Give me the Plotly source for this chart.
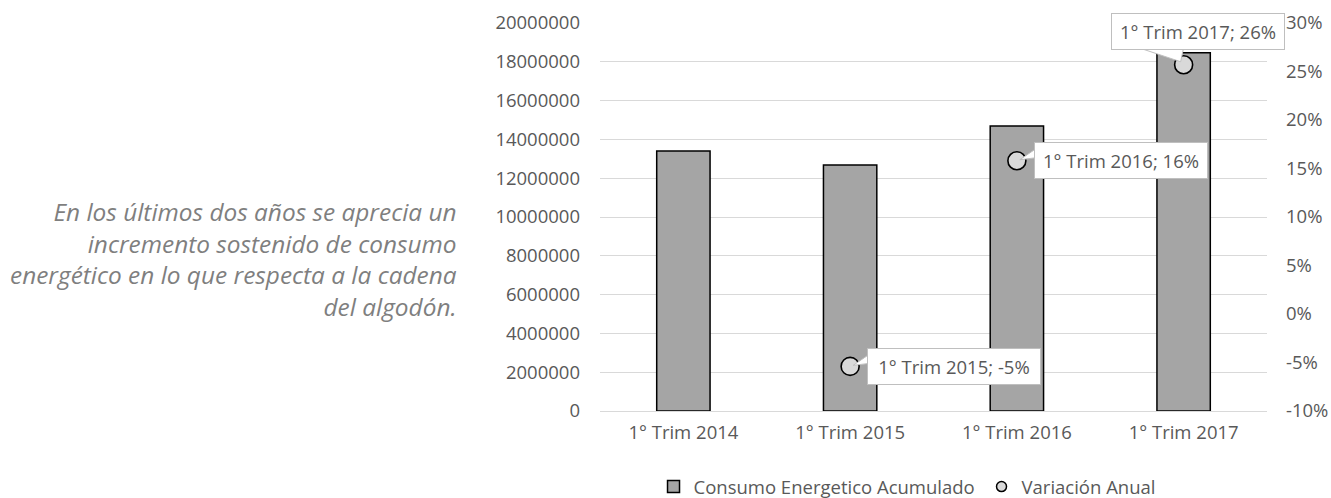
import plotly.graph_objects as go

# ---- data ----
categories = ["1° Trim 2014", "1° Trim 2015", "1° Trim 2016", "1° Trim 2017"]
consumo = [13400000, 12680000, 14690000, 18470000]
var_categories = ["1° Trim 2015", "1° Trim 2016", "1° Trim 2017"]
variacion = [-0.054, 0.158, 0.257]
left_ticks = list(range(0, 20000001, 2000000))
right_ticks = [-0.10, -0.05, 0.0, 0.05, 0.10, 0.15, 0.20, 0.25, 0.30]
right_ticktext = [f"{t*100:.0f}%" for t in right_ticks]

bar_name = "Consumo Energetico Acumulado"
line_name = "Variación Anual"
note_text = ("En los últimos dos años se aprecia un<br>incremento sostenido de consumo"
             "<br>energético en lo que respecta a la cadena<br>del algodón.")

FONT = "Open Sans"
TXT = "#595959"
FS = 18.5

fig = go.Figure()
fig.add_trace(go.Bar(
    x=categories, y=consumo, name=bar_name,
    marker=dict(color="#A5A5A5", line=dict(color="#000000", width=1.5)),
    yaxis="y", showlegend=True,
))
fig.add_trace(go.Scatter(
    x=var_categories, y=variacion, name=line_name, mode="markers",
    marker=dict(symbol="circle", size=18, color="#D9D9D9",
                line=dict(color="#000000", width=1.6)),
    yaxis="y2", showlegend=False,
))
# legend entry for the markers (smaller icon as in the reference)
fig.add_trace(go.Scatter(
    x=[categories[0]], y=[None], name=line_name, mode="markers",
    marker=dict(symbol="circle", size=10, color="#D9D9D9",
                line=dict(color="#000000", width=1.5)),
    yaxis="y2", showlegend=True, hoverinfo="skip",
))

# callout label placement (pixel offsets of the box from the point) and wedge pointers
side_label = dict(shift=(104, 0), wedge="M 3,1 L 19,3 L 19,12 Z")
top_label = dict(shift=(14, 33), wedge="M -3,3 L -45,17 L 0,17 Z")
label_style = {"1° Trim 2015": side_label, "1° Trim 2016": side_label, "1° Trim 2017": top_label}

annotations = []
shapes = []
for c, v in zip(var_categories, variacion):
    st = label_style[c]
    shapes.append(dict(
        type="path", xref="x", yref="y2", xsizemode="pixel", ysizemode="pixel",
        xanchor=c, yanchor=v, path=st["wedge"],
        fillcolor="#FFFFFF", line=dict(color="#BFBFBF", width=1), layer="above",
    ))
    annotations.append(dict(
        x=c, y=v, xref="x", yref="y2",
        text=f"{c}; {v*100:.0f}%", showarrow=False,
        xshift=st["shift"][0], yshift=st["shift"][1], width=162,
        bgcolor="#FFFFFF", bordercolor="#BFBFBF", borderwidth=1, borderpad=5,
        font=dict(family=FONT, size=FS, color=TXT),
    ))
annotations.append(dict(
    x=-0.2114, y=0.392, xref="paper", yref="paper",
    xanchor="right", yanchor="middle", align="right",
    text=note_text, showarrow=False,
    font=dict(family=FONT, size=24.4, color="#7F7F7F", style="italic"),
))

fig.update_layout(
    width=1331, height=498, autosize=False,
    margin=dict(l=600, r=64, t=23, b=87, pad=0, autoexpand=False),
    paper_bgcolor="#FFFFFF", plot_bgcolor="#FFFFFF",
    font=dict(family=FONT, size=FS, color=TXT),
    bargap=0.68,
    xaxis=dict(type="category", range=[-0.5, 3.5], autorange=False,
               domain=[0, 1], showgrid=False, showline=False, ticks="",
               ticklabelstandoff=8, automargin=False,
               tickfont=dict(family=FONT, size=FS, color=TXT)),
    yaxis=dict(range=[0, 20000000], tickvals=left_ticks, tickformat="d",
               showgrid=True, gridcolor="#D9D9D9", gridwidth=1,
               zeroline=True, zerolinecolor="#D9D9D9", zerolinewidth=1,
               showline=False, ticks="", ticklabelstandoff=19, automargin=False,
               tickfont=dict(family=FONT, size=FS, color=TXT)),
    yaxis2=dict(range=[-0.10, 0.30], tickvals=right_ticks, ticktext=right_ticktext,
                overlaying="y", side="right", showgrid=False, zeroline=False,
                showline=False, ticks="", ticklabelstandoff=18, automargin=False,
                tickfont=dict(family=FONT, size=FS, color=TXT)),
    legend=dict(orientation="h", xref="container", yref="container",
                x=0.491, y=0.022, xanchor="left", yanchor="middle",
                entrywidth=283, entrywidthmode="pixels",
                font=dict(family=FONT, size=FS, color=TXT),
                bgcolor="rgba(0,0,0,0)"),
    annotations=annotations,
    shapes=shapes,
)

fig.write_html("out.html", config={"displayModeBar": False},
               post_script="document.body.style.margin='0';document.body.style.overflow='hidden';")
